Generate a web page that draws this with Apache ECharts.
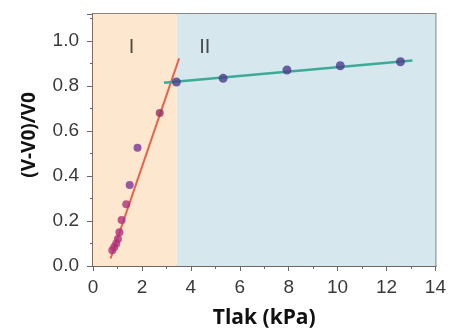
<!DOCTYPE html>
<html><head><meta charset="utf-8">
<script src="https://cdn.jsdelivr.net/npm/echarts@6/dist/echarts.min.js"></script>
<style>html,body{margin:0;padding:0;background:#fff}#c{width:449px;height:334px}</style>
</head><body><div id="c"></div>
<script>
var phase1X = [0.79, 0.87, 0.95, 1.02, 1.08, 1.17, 1.36, 1.5, 1.82, 2.73];
var phase1Y = [0.07, 0.085, 0.10, 0.12, 0.15, 0.205, 0.275, 0.36, 0.526, 0.68];
var phase2X = [3.41, 5.32, 7.93, 10.11, 12.57];
var phase2Y = [0.818, 0.834, 0.871, 0.89, 0.908];
var fit1X = [0.72, 3.52];
var fit1Y = [0.034, 0.923];
var fit2X = [2.9, 13.06];
var fit2Y = [0.814, 0.913];
var regionBreak = 3.43;
var xTicks = [0, 2, 4, 6, 8, 10, 12, 14];
var yTicks = [0.0, 0.2, 0.4, 0.6, 0.8, 1.0];
var regionLabels = ['I', 'II'];
var regionLabelX = [1.58, 4.57];
var regionLabelY = [0.97, 0.97];

function pairs(xs, ys){ return xs.map(function(x,i){ return [x, ys[i]]; }); }

var chart = echarts.init(document.getElementById('c'));
chart.setOption({
  animation: false,
  grid: {left: 93, right: 12, top: 14, bottom: 68, show: true, borderColor: '#8a8480', borderWidth: 2, backgroundColor: 'transparent'},
  xAxis: {type: 'value', min: 0, max: 14, interval: 2,
    axisLine: {lineStyle: {color: '#6e6660', width: 2}},
    axisTick: {length: 5, lineStyle: {color: '#6e6660'}},
    minorTick: {show: true, splitNumber: 2, length: 3, lineStyle: {color: '#6e6660'}},
    splitLine: {show: false},
    axisLabel: {fontSize: 19, color: '#3a3a3a', fontFamily: 'Liberation Sans', margin: 12,
      formatter: function(v){ return xTicks.indexOf(v) >= 0 ? String(v) : ''; }},
    name: 'Tlak (kPa)', nameLocation: 'middle', nameGap: 42,
    nameTextStyle: {fontSize: 21, fontWeight: 'bold', color: '#111', fontFamily: 'Open Sans'}
  },
  yAxis: {type: 'value', min: 0, max: 1.12, interval: 0.2,
    axisLine: {lineStyle: {color: '#8a6a5a', width: 2}},
    axisTick: {length: 6, lineStyle: {color: '#6e6660'}},
    minorTick: {show: true, splitNumber: 2, length: 3, lineStyle: {color: '#6e6660'}},
    splitLine: {show: false},
    axisLabel: {fontSize: 19, color: '#3a3a3a', fontFamily: 'Liberation Sans', margin: 14,
      formatter: function(v){
        for (var i=0;i<yTicks.length;i++){ if (Math.abs(yTicks[i]-v) < 1e-6) return yTicks[i].toFixed(1); }
        return '';
      }},
    name: '(V-V0)/V0', nameLocation: 'middle', nameGap: 54, nameRotate: 90,
    nameTextStyle: {fontSize: 19, fontWeight: 'bold', color: '#111', fontFamily: 'Open Sans', padding: [0, 0, 0, 10]}
  },
  series: [
    {type: 'line', data: [], silent: true,
      markArea: {silent: true, data: [
        [{xAxis: 0, yAxis: 0, itemStyle: {color: '#fde8cf'}}, {xAxis: regionBreak, yAxis: 1.12}],
        [{xAxis: regionBreak, yAxis: 0, itemStyle: {color: '#d6e8ee'}}, {xAxis: 14, yAxis: 1.12}]
      ]}},
    {type: 'line', data: pairs(fit1X, fit1Y), symbol: 'none', lineStyle: {color: '#e8634e', width: 2}, z: 3},
    {type: 'line', data: pairs(fit2X, fit2Y), symbol: 'none', lineStyle: {color: '#3daa98', width: 2.5}, z: 3},
    {type: 'scatter', data: pairs(phase1X, phase1Y), symbolSize: 8, z: 4,
      itemStyle: {color: function(p){ return p.value[1] < 0.3 ? '#b0307a' : (p.value[1] < 0.6 ? '#7a3598' : '#93305f'); }}},
    {type: 'scatter', data: pairs(phase2X, phase2Y), symbolSize: 9, symbol: 'circle', z: 4,
      itemStyle: {color: '#4a3b8c'}},
    {type: 'scatter', data: pairs(regionLabelX, regionLabelY), symbolSize: 0, z: 5,
      label: {show: true, position: 'inside', color: '#222', fontSize: 20, fontFamily: 'Liberation Sans',
        formatter: function(p){ return regionLabels[p.dataIndex]; }}}
  ]
});
</script></body></html>
